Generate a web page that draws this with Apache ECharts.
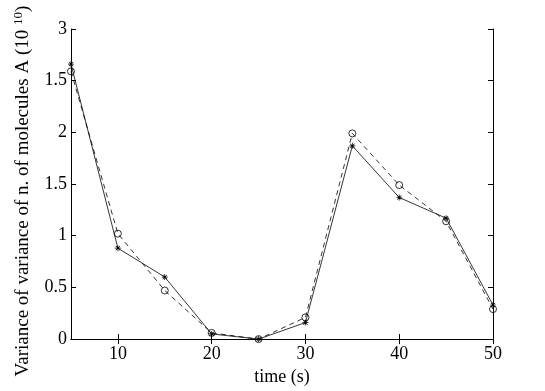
<!DOCTYPE html>
<html>
<head>
<meta charset="utf-8">
<script src="https://cdn.jsdelivr.net/npm/echarts@6/dist/echarts.min.js"></script>
<style>
html,body{margin:0;padding:0;background:#fff;}
#chart{width:545px;height:391px;}
</style>
</head>
<body>
<div id="chart"></div>
<script>
var times = [5, 10, 15, 20, 25, 30, 35, 40, 45, 50];
var solidStar = [2.66, 0.88, 0.60, 0.05, 0.00, 0.16, 1.87, 1.37, 1.17, 0.33];
var dashedCircle = [2.59, 1.02, 0.47, 0.06, 0.00, 0.21, 1.99, 1.49, 1.14, 0.29];
var xTicks = [10, 20, 30, 40, 50];
var yTickLabels = ['0', '0.5', '1', '1.5', '2', '1.5', '3'];

function pairs(ys) { return times.map(function (t, i) { return [t, ys[i]]; }); }

var FONT = '"Liberation Serif", "Times New Roman", serif';
var asterisk = 'path://M-0.6,-5L0.6,-5L0.6,5L-0.6,5Z M-5,-0.6L5,-0.6L5,0.6L-5,0.6Z M-3.9,-3.1L-3.1,-3.9L3.9,3.1L3.1,3.9Z M3.1,-3.9L3.9,-3.1L-3.1,3.9L-3.9,3.1Z';

var chart = echarts.init(document.getElementById('chart'), null, {renderer: 'canvas'});
var axisLineStyle = {color: '#000', width: 1};
chart.setOption({
  animation: false,
  backgroundColor: '#fff',
  grid: {left: 71, right: 52, top: 29, bottom: 44, containLabel: false},
  xAxis: [{
    type: 'value', min: 5, max: 50, position: 'bottom',
    splitLine: {show: false},
    axisLine: {show: true, lineStyle: axisLineStyle},
    axisTick: {show: true, inside: true, length: 5, customValues: xTicks, lineStyle: axisLineStyle},
    axisLabel: {customValues: xTicks, color: '#000', fontFamily: FONT, fontSize: 18, margin: 6},
    name: 'time (s)', nameLocation: 'middle', nameGap: 21,
    nameTextStyle: {color: '#000', fontFamily: FONT, fontSize: 18}
  }, {
    type: 'value', min: 5, max: 50, position: 'top',
    splitLine: {show: false},
    axisLine: {show: true, lineStyle: axisLineStyle},
    axisTick: {show: true, inside: true, length: 5, customValues: xTicks, lineStyle: axisLineStyle},
    axisLabel: {show: false}
  }],
  yAxis: [{
    type: 'value', min: 0, max: 3, interval: 0.5, position: 'left',
    splitLine: {show: false},
    axisLine: {show: true, lineStyle: axisLineStyle},
    axisTick: {show: true, inside: true, length: 5, lineStyle: axisLineStyle},
    axisLabel: {
      color: '#000', fontFamily: FONT, fontSize: 18, margin: 4,
      formatter: function (v) { var i = Math.round(v / 0.5); return yTickLabels[i] !== undefined ? yTickLabels[i] : ''; }
    },
    name: '{n|Variance of variance of n. of molecules A (10 }{s|10}{n|)}',
    nameLocation: 'middle', nameGap: 36, nameRotate: 90,
    nameTextStyle: {
      color: '#000', fontFamily: FONT, fontSize: 19, padding: [0, 14, 0, 0],
      rich: {
        n: {fontFamily: FONT, fontSize: 19, color: '#000'},
        s: {fontFamily: FONT, fontSize: 13, color: '#000', padding: [0, 0, 10, 0]}
      }
    }
  }, {
    type: 'value', min: 0, max: 3, interval: 0.5, position: 'right',
    splitLine: {show: false},
    axisLine: {show: true, lineStyle: axisLineStyle},
    axisTick: {show: true, inside: true, length: 5, lineStyle: axisLineStyle},
    axisLabel: {show: false}
  }],
  series: [{
    type: 'line', xAxisIndex: 0, yAxisIndex: 0,
    data: pairs(dashedCircle),
    symbol: 'circle', symbolSize: 7,
    itemStyle: {color: 'transparent', borderColor: '#000', borderWidth: 0.8},
    lineStyle: {color: '#000', width: 0.8, type: [5, 4]},
    z: 2
  }, {
    type: 'line', xAxisIndex: 0, yAxisIndex: 0,
    data: pairs(solidStar),
    symbol: asterisk, symbolSize: 6,
    itemStyle: {color: '#000'},
    lineStyle: {color: '#000', width: 0.8, type: 'solid'},
    z: 3
  }]
});
</script>
</body>
</html>
